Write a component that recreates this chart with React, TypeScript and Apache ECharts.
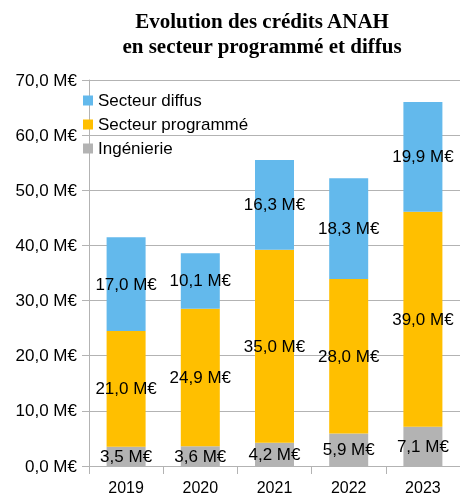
import React, { useEffect, useRef } from "react";
import * as echarts from "echarts";

const years = ["2019", "2020", "2021", "2022", "2023"];
const ingenierie = [3.5, 3.6, 4.2, 5.9, 7.1];
const programme = [21.0, 24.9, 35.0, 28.0, 39.0];
const diffus = [17.0, 10.1, 16.3, 18.3, 19.9];
const seriesNames = ["Ingénierie", "Secteur programmé", "Secteur diffus"];
const legendOrder = ["Secteur diffus", "Secteur programmé", "Ingénierie"];
const titleLines = ["Evolution des crédits ANAH", "en secteur programmé et diffus"];

const fmt = (v: number) => v.toFixed(1).replace(".", ",") + " M€";
const FONT = "Liberation Sans";
const GREY = "#b3b3b3";

export default function App() {
  const ref = useRef<HTMLDivElement>(null);
  useEffect(() => {
    if (!ref.current) return;
    const chart = echarts.init(ref.current, null, { renderer: "svg" });
    const colors = ["#b3b3b3", "#ffbf00", "#63b9ec"];
    const data = [ingenierie, programme, diffus];
    chart.setOption({
      animation: false,
      textStyle: { fontFamily: FONT },
      graphic: [
        {
          type: "text",
          x: 262,
          y: 8,
          style: {
            text: titleLines.join("\n"),
            align: "center",
            verticalAlign: "top",
            fontFamily: "Liberation Serif",
            fontWeight: "bold",
            fontSize: 21,
            lineHeight: 25,
            fill: "#000",
          },
        },
      ],
      legend: {
        orient: "vertical",
        left: 83,
        top: 92,
        padding: 0,
        itemWidth: 10,
        itemHeight: 10,
        itemGap: 7,
        icon: "rect",
        data: legendOrder,
        textStyle: { fontFamily: FONT, fontSize: 17, lineHeight: 17, color: "#000" },
      },
      grid: { left: 89, top: 80, width: 380, height: 387, containLabel: false },
      xAxis: {
        type: "category",
        data: years,
        axisLine: { lineStyle: { color: GREY } },
        axisTick: { show: true, length: 8, lineStyle: { color: GREY } },
        axisLabel: { fontFamily: FONT, fontSize: 16, color: "#000", margin: 13 },
      },
      yAxis: {
        type: "value",
        min: 0,
        max: 70,
        interval: 10,
        axisLine: { show: true, lineStyle: { color: GREY } },
        axisTick: { show: true, length: 7, lineStyle: { color: GREY } },
        splitLine: { lineStyle: { color: GREY } },
        axisLabel: { fontFamily: FONT, fontSize: 17, color: "#000", margin: 12, formatter: (v: number) => fmt(v) },
      },
      series: seriesNames.map((name, i) => ({
        name,
        type: "bar",
        stack: "total",
        barWidth: 39,
        data: data[i],
        itemStyle: { color: colors[i] },
        label: {
          show: true,
          position: "inside",
          fontFamily: FONT,
          fontSize: 17,
          color: "#000",
          formatter: (p: any) => fmt(p.value),
        },
      })),
    });
    return () => chart.dispose();
  }, []);
  return <div ref={ref} style={{ position: "fixed", left: 0, top: 0, width: 460, height: 495 }} />;
}
